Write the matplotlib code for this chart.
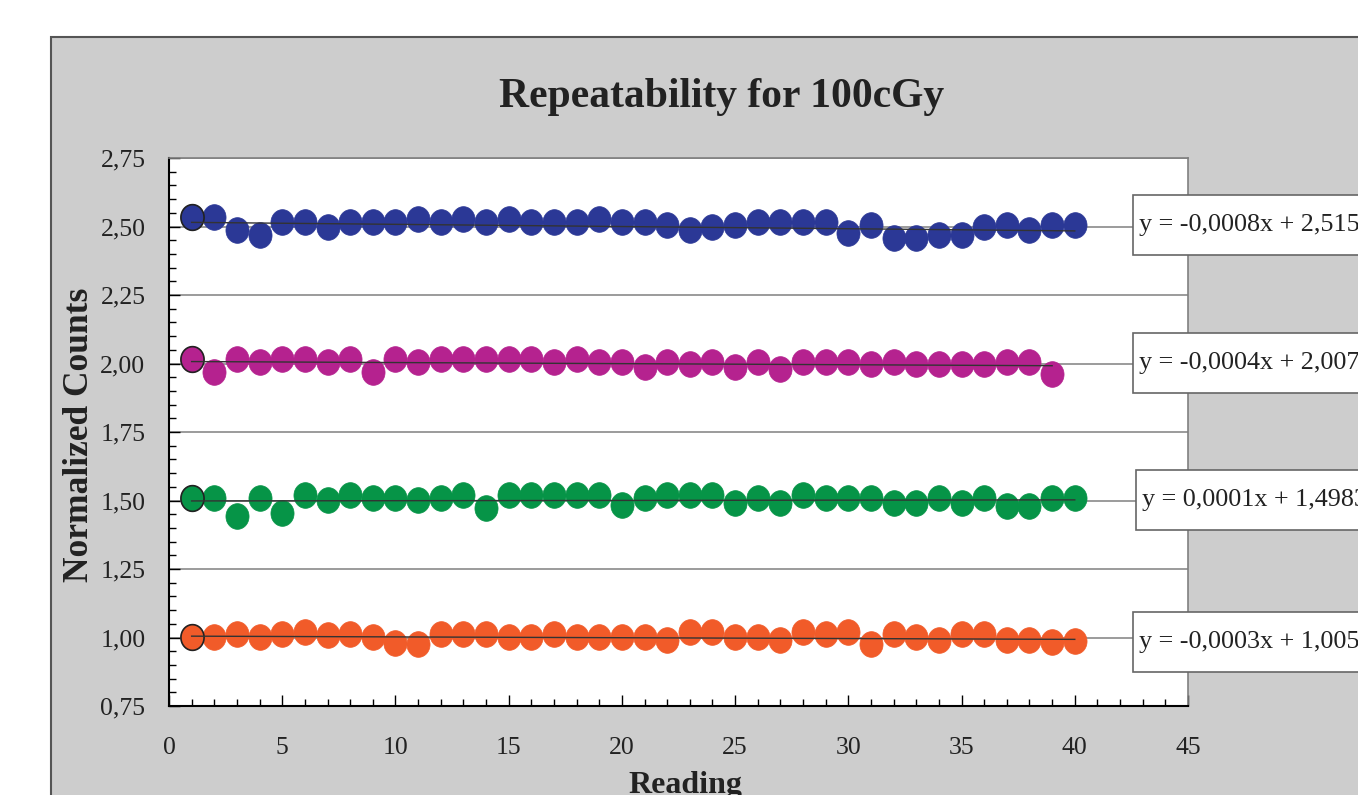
import matplotlib
matplotlib.use("Agg")
import matplotlib.pyplot as plt
import matplotlib.ticker as mticker
import matplotlib.transforms as mtransforms
from matplotlib.patches import Rectangle
from matplotlib.path import Path
import numpy as np

plt.rcParams["font.family"] = ["Liberation Serif", "DejaVu Serif"]

# ── Data ──────────────────────────────────────────────────────────────────────
blue = [2.536, 2.535, 2.487, 2.469, 2.515, 2.515, 2.497, 2.515, 2.515, 2.515,
        2.526, 2.515, 2.526, 2.515, 2.526, 2.515, 2.515, 2.515, 2.526, 2.515,
        2.515, 2.505, 2.487, 2.497, 2.505, 2.515, 2.515, 2.515, 2.515, 2.477,
        2.505, 2.459, 2.459, 2.469, 2.469, 2.497, 2.505, 2.487, 2.505, 2.505]
magenta = [2.016, 1.970, 2.017, 2.007, 2.017, 2.017, 2.007, 2.017, 1.970, 2.017,
           2.007, 2.017, 2.017, 2.017, 2.017, 2.017, 2.007, 2.017, 2.007, 2.007,
           1.989, 2.007, 2.000, 2.007, 1.989, 2.007, 1.979, 2.007, 2.007, 2.007,
           2.000, 2.007, 2.000, 2.000, 2.000, 2.000, 2.007, 2.007, 1.961]
green = [1.510, 1.510, 1.443, 1.510, 1.453, 1.520, 1.502, 1.520, 1.510, 1.510,
         1.502, 1.510, 1.520, 1.474, 1.520, 1.520, 1.520, 1.520, 1.520, 1.484,
         1.510, 1.520, 1.520, 1.520, 1.490, 1.510, 1.492, 1.520, 1.510, 1.510,
         1.510, 1.492, 1.492, 1.510, 1.492, 1.510, 1.481, 1.481, 1.510, 1.510]
orange = [1.003, 1.003, 1.013, 1.003, 1.013, 1.021, 1.009, 1.013, 1.003, 0.981,
          0.975, 1.013, 1.013, 1.013, 1.003, 1.003, 1.013, 1.003, 1.003, 1.003,
          1.003, 0.992, 1.021, 1.021, 1.003, 1.003, 0.992, 1.021, 1.013, 1.021,
          0.975, 1.013, 1.003, 0.992, 1.013, 1.013, 0.992, 0.992, 0.985, 0.988]

slopes = [-0.0008, -0.0004, 0.0001, -0.0003]
intercepts = [2.5159, 2.0075, 1.4983, 1.0052]
eq_labels = ["y = -0,0008x + 2,5159", "y = -0,0004x + 2,0075",
             "y = 0,0001x + 1,4983", "y = -0,0003x + 1,0052"]
colors = ["#2b3896", "#b5228f", "#069447", "#f15b29"]
series = [blue, magenta, green, orange]

# label box placement (axes fraction x, data y centre)
box_x = [0.946, 0.946, 0.949, 0.946]
box_y = [2.505, 2.002, 1.502, 0.984]

# ── Figure ────────────────────────────────────────────────────────────────────
fig = plt.figure(figsize=(13.58, 7.95), dpi=100)
W, H = 1358, 795

fig.patches.append(Rectangle((51 / W, -0.2), 1.2, 1 - 37 / H + 0.2,
                             transform=fig.transFigure, fc="#cdcdcd",
                             ec="#555555", lw=1.5, zorder=-5))

ax = fig.add_axes([169 / W, 1 - 706 / H, (1188 - 169) / W, (706 - 158) / H])
ax.set_facecolor("white")

# ellipse marker, a bit taller than wide
t = np.linspace(0, 2 * np.pi, 60)
ell = Path(np.column_stack([0.45 * np.cos(t), 0.5 * np.sin(t)]), closed=True)

for ys, c, m, b in zip(series, colors, slopes, intercepts):
    xs = np.arange(1, len(ys) + 1)
    ax.plot(xs, ys, linestyle="none", marker=ell, ms=18.5, mfc=c, mec=c,
            mew=0.5, zorder=3)
    ax.plot(xs[:1], ys[:1], linestyle="none", marker=ell, ms=18.5, mfc=c,
            mec="#222222", mew=1.2, zorder=4)
    ax.plot(xs, m * xs + b, color="#333333", lw=1.0, zorder=5)

ax.set_xlim(0, 45)
ax.set_ylim(0.75, 2.75)
ax.xaxis.set_major_locator(mticker.MultipleLocator(5))
ax.xaxis.set_minor_locator(mticker.MultipleLocator(1))
ax.yaxis.set_major_locator(mticker.MultipleLocator(0.25))
ax.yaxis.set_minor_locator(mticker.MultipleLocator(0.05))
ax.yaxis.set_major_formatter(
    mticker.FuncFormatter(lambda v, p: f"{v:.2f}".replace(".", ",")))
ax.tick_params(which="both", direction="in", color="black", labelsize=18.5,
               labelcolor="#222222")
ax.tick_params(which="major", length=8, width=1)
ax.tick_params(which="minor", length=5, width=1)
ax.tick_params(axis="y", pad=17)
ax.tick_params(axis="x", pad=22)

ax.grid(True, axis="y", which="major", color="#808080", lw=1.1, zorder=1)
ax.set_axisbelow(True)
for s in ["left", "bottom"]:
    ax.spines[s].set_color("black")
    ax.spines[s].set_linewidth(1.5)
for s in ["top", "right"]:
    ax.spines[s].set_color("#808080")
    ax.spines[s].set_linewidth(1.2)

# equation boxes
blend = mtransforms.blended_transform_factory(ax.transAxes, ax.transData)
for bx, by, lab in zip(box_x, box_y, eq_labels):
    ax.add_patch(Rectangle((bx, by - 0.11), 0.5, 0.22, transform=blend,
                           fc="white", ec="#666666", lw=1.2, clip_on=False,
                           zorder=6))
    ax.text(bx + 0.006, by, lab, transform=blend, ha="left", va="center",
            fontsize=18.8, color="#222222", clip_on=False, zorder=7)

fig.text(722 / W, 1 - 97 / H, "Repeatability for 100cGy", ha="center",
         va="center", fontsize=30, fontweight="bold", color="#222222")
fig.text(80 / W, 1 - 435 / H, "Normalized Counts", ha="center", va="center",
         rotation=90, fontsize=25.5, fontweight="bold", color="#222222")
fig.text(685 / W, 1 - 786 / H, "Reading", ha="center", va="center",
         fontsize=23, fontweight="bold", color="#222222")

fig.savefig("out.png", dpi=100)
